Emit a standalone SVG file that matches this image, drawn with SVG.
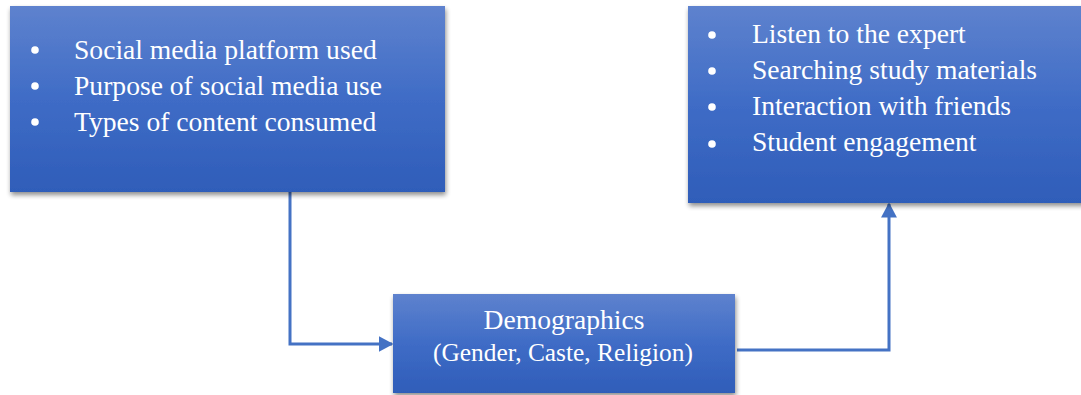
<svg xmlns="http://www.w3.org/2000/svg" width="1081" height="395" viewBox="0 0 1081 395">
<defs>
<linearGradient id="g" x1="0" y1="0" x2="0" y2="1">
<stop offset="0" stop-color="#5E82CE"/>
<stop offset="0.5" stop-color="#3F6CC6"/>
<stop offset="1" stop-color="#2F5DB9"/>
</linearGradient>
<filter id="sh" x="-5%" y="-5%" width="110%" height="115%">
<feGaussianBlur in="SourceAlpha" stdDeviation="2.5"/>
<feOffset dx="1" dy="3" result="b"/>
<feComponentTransfer><feFuncA type="linear" slope="0.45"/></feComponentTransfer>
<feMerge><feMergeNode/><feMergeNode in="SourceGraphic"/></feMerge>
</filter>
<marker id="ah" viewBox="0 0 10 10" refX="9" refY="5" markerWidth="5" markerHeight="5.3" markerUnits="strokeWidth" orient="auto" preserveAspectRatio="none">
<path d="M0,0 L10,5 L0,10 Z" fill="#4472C4"/>
</marker>
<style>
.box{fill:url(#g);filter:url(#sh);}
.t{font-family:"Liberation Serif","Times New Roman",serif;font-size:27.6px;fill:#FFFFFF;}
.s{font-family:"Liberation Serif","Times New Roman",serif;font-size:25.4px;fill:#FFFFFF;}
.c{fill:none;stroke:#4472C4;stroke-width:3;}
</style>
</defs>
<g id="connectors">
<path class="c" d="M290,192 V344 H392" marker-end="url(#ah)"/>
<path class="c" d="M737,350 H889 V204" marker-end="url(#ah)"/>
</g>
<g id="node-social">
<rect class="box" x="10" y="6" width="435" height="186"/>
<circle cx="35" cy="50" r="3.8" fill="#fff"/>
<circle cx="35" cy="86" r="3.8" fill="#fff"/>
<circle cx="35" cy="122" r="3.8" fill="#fff"/>
<text class="t" x="74" y="59">Social media platform used</text>
<text class="t" x="74" y="95">Purpose of social media use</text>
<text class="t" x="74" y="131">Types of content consumed</text>
</g>
<g id="node-outcomes">
<rect class="box" x="688" y="6" width="400" height="197"/>
<circle cx="712" cy="35" r="3.8" fill="#fff"/>
<circle cx="712" cy="71" r="3.8" fill="#fff"/>
<circle cx="712" cy="107" r="3.8" fill="#fff"/>
<circle cx="712" cy="144" r="3.8" fill="#fff"/>
<text class="t" x="752" y="43">Listen to the expert</text>
<text class="t" x="752" y="79">Searching study materials</text>
<text class="t" x="752" y="115">Interaction with friends</text>
<text class="t" x="752" y="151">Student engagement</text>
</g>
<g id="node-demographics">
<rect class="box" x="393" y="294" width="342" height="99"/>
<text class="t" x="564" y="329" text-anchor="middle">Demographics</text>
<text class="s" x="563" y="361" text-anchor="middle">(Gender, Caste, Religion)</text>
</g>
</svg>
